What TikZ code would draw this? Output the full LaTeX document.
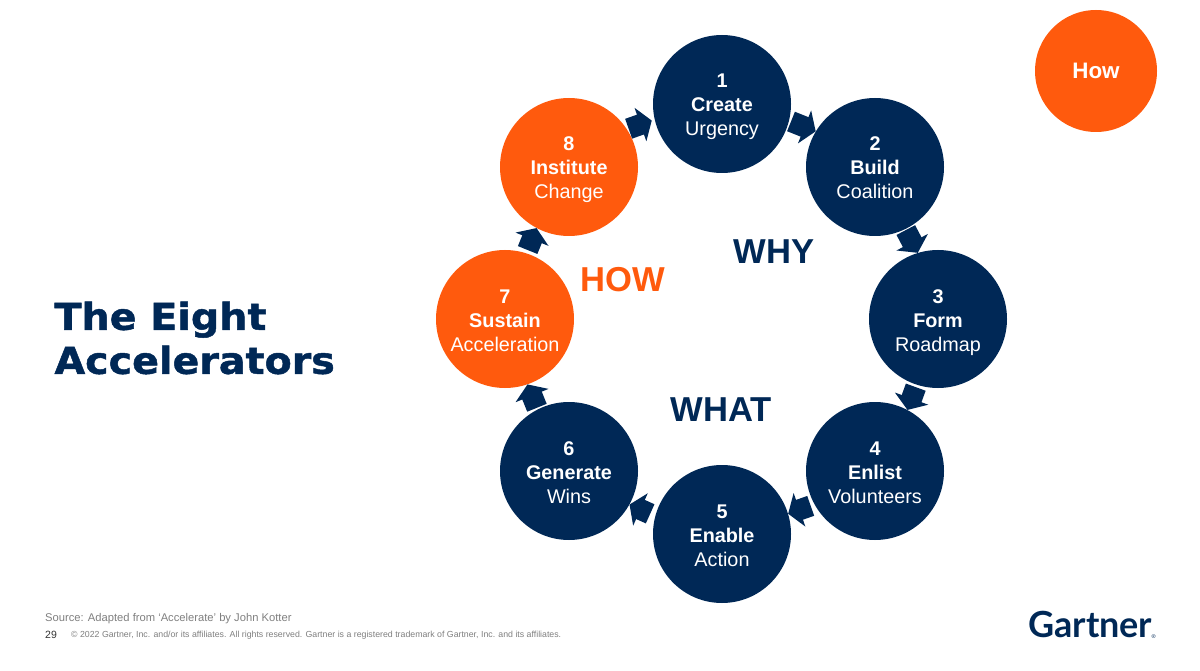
\documentclass[tikz,border=0pt]{standalone}
\usepackage{fontspec}
\setmainfont{Liberation Sans}
\newfontfamily\titlefont[BoldFeatures={FakeStretch=1.07,FakeBold=1.3}]{DejaVu Sans}
\newfontfamily\logofont{Lato}
\usetikzlibrary{arrows.meta}
\definecolor{navy}{HTML}{002856}
\definecolor{orangeb}{HTML}{FF5A0D}
\definecolor{greyt}{HTML}{7F7F7F}
\newcommand{\stepnum}[1]{\rule{0pt}{21pt}\textbf{#1}}
\newcommand{\lastline}[1]{#1\rule[-5pt]{0pt}{5pt}}
\tikzset{
 x=1pt,y=-1pt,
 step circle/.style={circle,minimum size=138pt,inner sep=0pt,text=white,align=center,font=\fontsize{19.8}{24}\selectfont,fill=navy},
 orange circle/.style={step circle,fill=orangeb},
 block/.style={draw=navy,line width=21pt,-{Triangle[width=35pt,length=12pt]}},
 headline/.style={font=\fontsize{34.6}{34.6}\selectfont\bfseries},
}
\begin{document}
\begin{tikzpicture}
\useasboundingbox (0,0) rectangle (1200,671);
\node[step circle] (n1) at (722,104) {\stepnum{1}\\\textbf{Create}\\\lastline{Urgency}};
\node[step circle] (n2) at (875,167) {\stepnum{2}\\\textbf{Build}\\\lastline{Coalition}};
\node[step circle] (n3) at (938,319) {\stepnum{3}\\\textbf{Form}\\\lastline{Roadmap}};
\node[step circle] (n4) at (875,471) {\stepnum{4}\\\textbf{Enlist}\\\lastline{Volunteers}};
\node[step circle] (n5) at (722,534) {\stepnum{5}\\\textbf{Enable}\\\lastline{Action}};
\node[step circle] (n6) at (569,471) {\stepnum{6}\\\textbf{Generate}\\\lastline{Wins}};
\node[orange circle] (n7) at (505,319) {\stepnum{7}\\\textbf{Sustain}\\\lastline{Acceleration}};
\node[orange circle] (n8) at (569,167) {\stepnum{8}\\\textbf{Institute}\\\lastline{Change}};
\node[circle,minimum size=122pt,inner sep=0pt,fill=orangeb,text=white,font=\fontsize{22.4}{24}\selectfont\bfseries] (how) at (1096,71) {How};
\draw[block,shorten <=2pt] (n1.-14) -- (n2.149);
\draw[block,shorten <=1pt] (n2.-64) -- (n3.107.6);
\draw[block,shorten <=2.5pt] (n3.-108) -- (n4.62);
\draw[block,shorten <=4pt] (n4.-151) -- (n5.17.4);
\draw[block,shorten <=5.5pt] (n5.165) -- (n6.-29.5);
\draw[block,shorten <=1.7pt] (n6.117) -- (n7.-71);
\draw[block,shorten <=3.4pt] (n7.72.3) -- (n8.-118.4);
\draw[block,shorten <=1.7pt,shorten >=3pt] (n8.33.5) -- (n1.193);
\node[headline,text=navy] (why) at (774,252) {WHY};
\node[headline,text=orangeb] (howt) at (623,280) {HOW};
\node[headline,text=navy] (what) at (721,410) {WHAT};
\node[anchor=west,text=navy,align=left,font=\titlefont\fontsize{37}{44}\selectfont\bfseries] (title) at (51,338) {The Eight\\Accelerators};
\node[anchor=west,inner sep=0pt,text=greyt,font=\fontsize{11.2}{13}\selectfont] (src) at (45,619) {Source: Adapted from `Accelerate' by John Kotter};
\node[anchor=west,inner sep=0pt,text=black!80,font=\fontsize{10.5}{13}\selectfont] (pg) at (45,635) {29};
\node[anchor=west,inner sep=0pt,text=greyt,font=\fontsize{8.77}{10}\selectfont] (copy) at (71,635.5) {© 2022 Gartner, Inc. and/or its affiliates. All rights reserved. Gartner is a registered trademark of Gartner, Inc. and its affiliates.};
\node[anchor=west,inner sep=0pt,text=navy,font=\logofont\fontsize{36}{36}\selectfont\bfseries] (logo) at (1028,624) {Gartner};
\node[anchor=west,inner sep=0pt,text=navy,font=\fontsize{5.5}{5.5}\selectfont] (reg) at (1151.5,637) {®};
\end{tikzpicture}
\end{document}
